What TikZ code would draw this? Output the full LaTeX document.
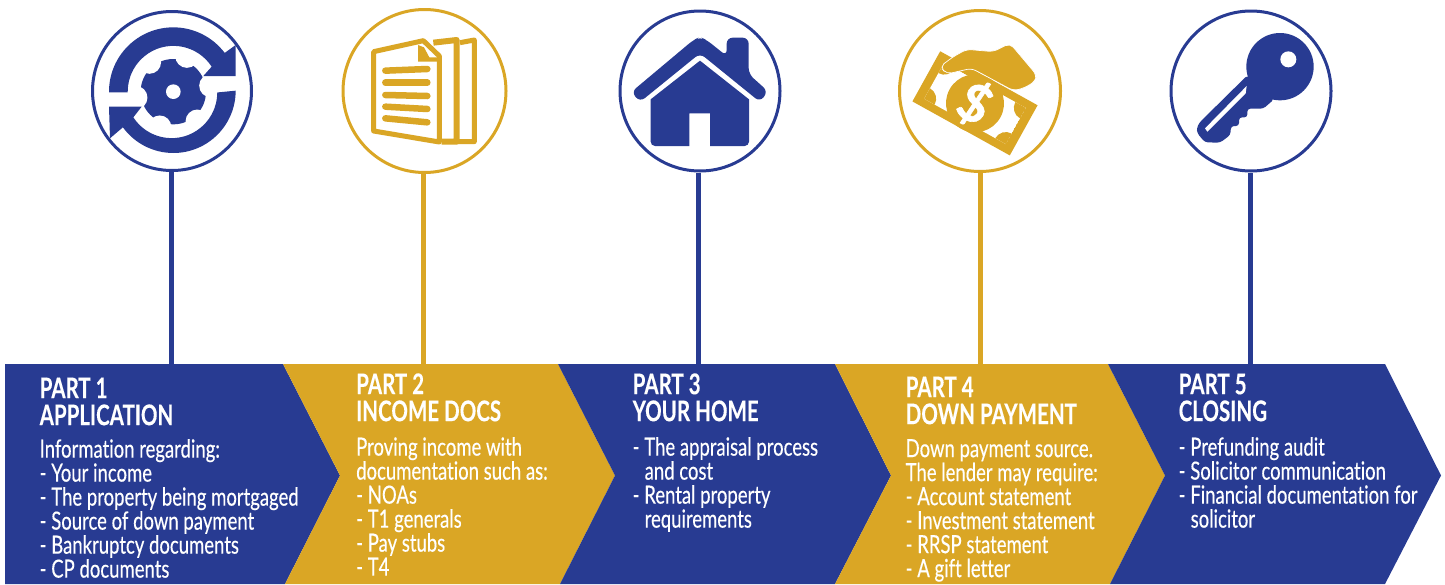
\documentclass[tikz,border=0pt]{standalone}
\usepackage{fontspec}
\setmainfont{Lato}
\newfontfamily\bodyfam[FakeStretch=0.74,FakeBold=0.3,Ligatures=NoCommon]{Lato}
\newfontfamily\headfam[FakeStretch=0.72,FakeBold=0.2,Ligatures=NoCommon]{Lato Bold}
\newfontfamily\signfam[FakeBold=1.2]{Lato Bold}
\definecolor{bluec}{HTML}{283B92}
\definecolor{goldc}{HTML}{DAA625}
\newcommand{\hs}{\rule{0pt}{22pt}}
\newcommand{\bs}{\rule{0pt}{17pt}}
\tikzset{
  ring/.style={circle,draw=#1,line width=3pt,fill=white,inner sep=0pt},
  stem/.style={line width=5pt,draw=#1},
  head/.style={anchor=north west,inner sep=0pt,text=white,align=left,font=\headfam\fontsize{28.5}{27}\selectfont},
  body/.style={anchor=north west,inner sep=0pt,text=white,align=left,font=\bodyfam\fontsize{25}{24}\selectfont},
}
\begin{document}
\begin{tikzpicture}[x=1pt,y=1pt,yscale=-1]
\useasboundingbox (0,0) rectangle (1445,584);
% rings
\node[ring=bluec,minimum size=159pt] (c1) at (172,91) {};
\node[ring=goldc,minimum size=163pt] (c2) at (424.5,91) {};
\node[ring=bluec,minimum size=160pt] (c3) at (700,91) {};
\node[ring=goldc,minimum size=161pt] (c4) at (980,91) {};
\node[ring=bluec,minimum size=160pt] (c5) at (1251,91) {};
\coordinate (b1) at (171.5,365);
\coordinate (b2) at (423.5,365);
\coordinate (b3) at (698.5,365);
\coordinate (b4) at (980,365);
\coordinate (b5) at (1250,365);
\draw[stem=bluec] (c1.south -| b1) -- (b1);
\draw[stem=goldc] (c2.south -| b2) -- (b2);
\draw[stem=bluec] (c3.south -| b3) -- (b3);
\draw[stem=goldc] (c4.south -| b4) -- (b4);
\draw[stem=bluec] (c5.south -| b5) -- (b5);
% chevrons
\fill[bluec] (5,364) -- (283,364) -- (340,475.5) -- (285,584) -- (5,584) -- cycle;
\fill[goldc] (283,364) -- (558,364) -- (615,475.5) -- (560,584) -- (285,584) -- (340,475.5) -- cycle;
\fill[bluec] (558,364) -- (835,364) -- (891,475.5) -- (835,584) -- (560,584) -- (615,475.5) -- cycle;
\fill[goldc] (835,364) -- (1108,364) -- (1165,475.5) -- (1110,584) -- (835,584) -- (891,475.5) -- cycle;
\fill[bluec] (1108,364) -- (1385,364) -- (1441,475.5) -- (1385,584) -- (1110,584) -- (1165,475.5) -- cycle;
% icon 1
\begin{scope}[shift={(80,0)},scale=1/3]
  \fill[bluec] (280,275) circle[radius=98];
  \foreach \a in {9,69,129,189,249,309}
    \fill[white] (280,275) ++(-\a:114) circle[radius=35];
  \fill[white] (280,275) circle[radius=22];
  \fill[bluec] (87,277) -- (87,275) arc[start angle=-180,end angle=-37,radius=193] -- (467,135) -- (467,228) -- (370,228) -- (395,200) arc[start angle=-33,end angle=-180,radius=137] -- (143,277) -- cycle;
  \fill[bluec] (467,272) arc[start angle=0,end angle=144,radius=187] -- (90,415) -- (87,320) -- (185,320) -- (160,352) arc[start angle=147,end angle=0,radius=137] -- cycle;
\end{scope}
% icon 2
\begin{scope}[shift={(80,0)},scale=1/3]
  \draw[goldc,line width=5pt,line join=round] (881,155) -- (1030,122) -- (1078,168) -- (1078,426) -- (881,393) -- cycle;
  \fill[goldc] (1014,135) -- (1014,185) -- (1072,185) -- (1072,172) -- (1048,172) -- (1032,142) -- cycle;
  \draw[goldc,line width=6pt,line join=round] (1060,128) -- (1130,120) -- (1130,425) -- (1085,425);
  \draw[goldc,line width=5pt,line join=round] (1140,128) -- (1183,120) -- (1183,425) -- (1130,425);
  \foreach \ya/\yb in {212/207,248/248,285/288,320/327,355/367}
    \draw[goldc,line width=6.5pt,line cap=round] (916,\ya) -- (1042,\yb);
\end{scope}
% icon 3
\begin{scope}[shift={(600,0)},scale=1/3]
  \fill[bluec,rounded corners=6pt] (94,276) -- (280,120) -- (300,111) -- (320,120) -- (380,168) -- (380,113) -- (446,113) -- (446,222) -- (504,274) -- (480,306) -- (300,160) -- (120,306) -- cycle;
  \fill[bluec] (300,182) -- (447,298) -- (447,425) arc[start angle=0,end angle=90,radius=13] -- (330,438) -- (330,340) -- (268,340) -- (268,438) -- (165,438) arc[start angle=90,end angle=180,radius=13] -- (152,298) -- cycle;
\end{scope}
% icon 4
\begin{scope}[shift={(600,0)},scale=1/3]
  \begin{scope}[shift={(1125,310)},rotate=29]
    \fill[goldc] (-167,-86) rectangle (167,86);
    \begin{scope}
      \clip (-140,-62) rectangle (140,62);
      \fill[white] (-140,-62) rectangle (140,62);
      \foreach \sx/\sy in {-1/-1,1/-1,-1/1,1/1}
        \fill[goldc] (140*\sx,62*\sy) circle[radius=36];
    \end{scope}
    \fill[goldc] (0,0) circle[radius=87];
    \node[text=white,font=\signfam\fontsize{52}{52}\selectfont,inner sep=0pt,rotate=-29] (dollar) at (0,0) {\$};
  \end{scope}
  \fill[goldc,draw=white,line width=0.7pt,rounded corners=5pt] (1020,200) -- (1060,170) -- (1100,148) -- (1180,155) -- (1230,130) -- (1310,225) -- (1305,245) -- (1270,265) -- (1240,272) -- (1115,205) -- (1040,222) -- cycle;
\end{scope}
% icon 5
\begin{scope}[shift={(1150,0)},scale=1/3]
  \fill[bluec] (390,200) circle[radius=101];
  \fill[bluec,rounded corners=3pt] (292,226) -- (148,368) -- (140,385) -- (142,400) -- (165,427) -- (210,428) -- (241,405) -- (243,378) -- (267,378) -- (267,352) -- (292,352) -- (292,326) -- (340,326) -- (372,298) -- cycle;
  \fill[white] (415,178) circle[radius=24];
  \fill[white] (290,258) -- (287,280) -- (172,395) -- (165,385) -- cycle;
\end{scope}
% text
\node[head] (h1) at (39.5,376) {\hs PART 1\\APPLICATION};
\node[body] (t1) at (39.5,439) {\bs Information regarding:\\- Your income\\- The property being mortgaged\\- Source of down payment\\- Bankruptcy documents\\- CP documents};
\node[head] (h2) at (356,372) {\hs PART 2\\INCOME DOCS};
\node[body] (t2) at (356,437) {\bs Proving income with\\documentation such as:\\- NOAs\\- T1 generals\\- Pay stubs\\- T4};
\node[head] (h3) at (632.5,372) {\hs PART 3\\YOUR HOME};
\node[body] (t3) at (632.5,437) {\bs - The appraisal process\\\hspace*{12pt}and cost\\- Rental property\\\hspace*{12pt}requirements};
\node[head] (h4) at (905.5,375) {\hs PART 4\\DOWN PAYMENT};
\node[body] (t4) at (905.5,439) {\bs Down payment source.\\The lender may require:\\- Account statement\\- Investment statement\\- RRSP statement\\- A gift letter};
\node[head] (h5) at (1178.5,372) {\hs PART 5\\CLOSING};
\node[body] (t5) at (1178.5,437) {\bs - Prefunding audit\\- Solicitor communication\\- Financial documentation for\\\hspace*{12pt}solicitor};
\end{tikzpicture}
\end{document}
